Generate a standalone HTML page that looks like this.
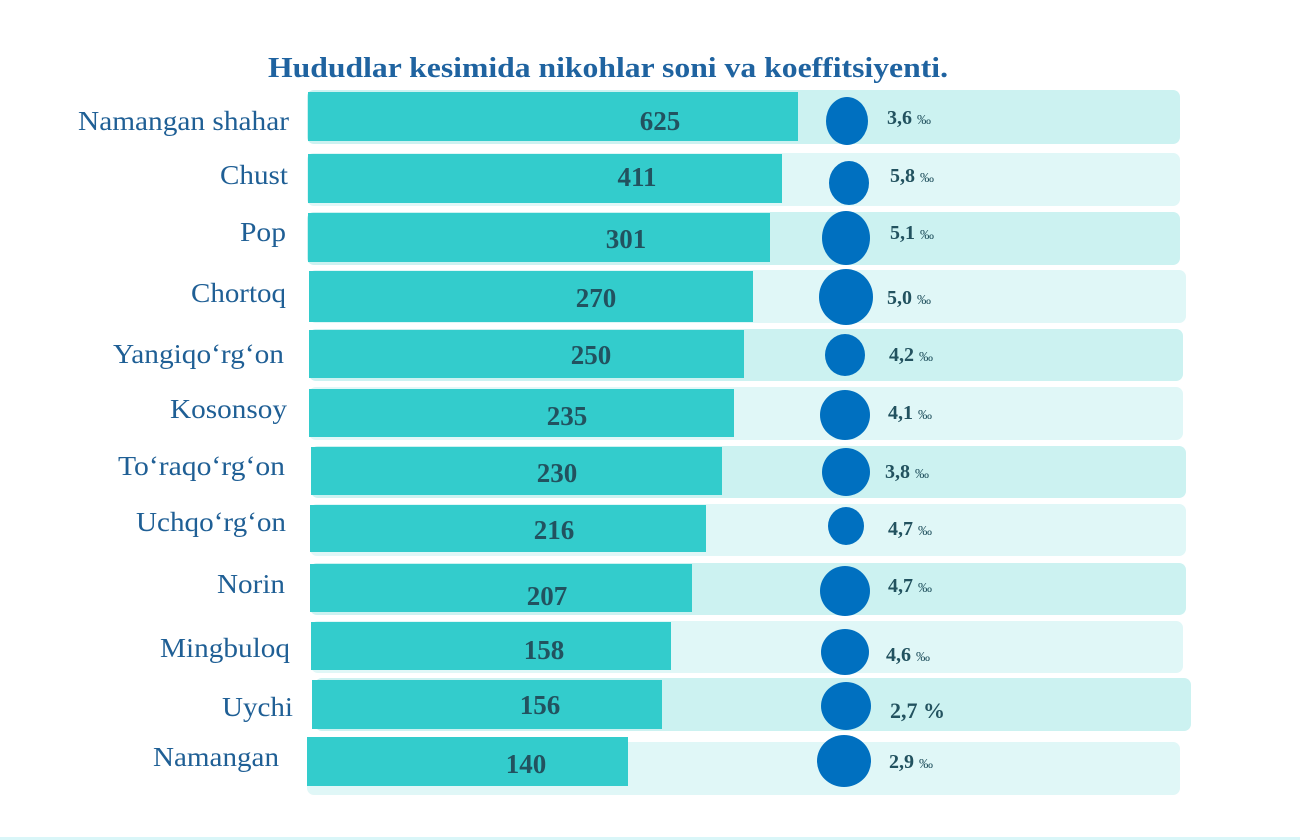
<!DOCTYPE html>
<html><head><meta charset="utf-8"><style>body{margin:0;background:#fff}svg{display:block}</style></head><body>
<svg width="1300" height="840" xmlns="http://www.w3.org/2000/svg" font-family="Liberation Serif, serif">
<text x="268" y="77" font-size="28" font-weight="bold" fill="#1f63a0" textLength="680" lengthAdjust="spacingAndGlyphs">Hududlar kesimida nikohlar soni va koeffitsiyenti.</text>
<g>
<rect x="307" y="90" width="873" height="54" rx="7" fill="#ccf2f1"/>
<rect x="307" y="153" width="873" height="53" rx="7" fill="#e0f7f7"/>
<rect x="307" y="212" width="873" height="53" rx="7" fill="#ccf2f1"/>
<rect x="309" y="270" width="877" height="53" rx="7" fill="#e0f7f7"/>
<rect x="309" y="329" width="874" height="52" rx="7" fill="#ccf2f1"/>
<rect x="309" y="387" width="874" height="53" rx="7" fill="#e0f7f7"/>
<rect x="311" y="446" width="875" height="52" rx="7" fill="#ccf2f1"/>
<rect x="310" y="504" width="876" height="52" rx="7" fill="#e0f7f7"/>
<rect x="310" y="563" width="876" height="52" rx="7" fill="#ccf2f1"/>
<rect x="311" y="621" width="872" height="52" rx="7" fill="#e0f7f7"/>
<rect x="315" y="678" width="876" height="53" rx="7" fill="#ccf2f1"/>
<rect x="307" y="742" width="873" height="53" rx="7" fill="#e0f7f7"/>
</g>
<g fill="#33cccc">
<rect x="308" y="92" width="490" height="49"/>
<rect x="308" y="154" width="474" height="49"/>
<rect x="308" y="213" width="462" height="49"/>
<rect x="309" y="271" width="444" height="51"/>
<rect x="309" y="330" width="435" height="48"/>
<rect x="309" y="389" width="425" height="48"/>
<rect x="311" y="447" width="411" height="48"/>
<rect x="310" y="505" width="396" height="47"/>
<rect x="310" y="564" width="382" height="48"/>
<rect x="311" y="622" width="360" height="48"/>
<rect x="312" y="680" width="350" height="49"/>
<rect x="307" y="737" width="321" height="49"/>
</g>
<g fill="#0070c0">
<ellipse cx="847" cy="121" rx="21" ry="24"/>
<ellipse cx="849" cy="183" rx="20" ry="22"/>
<ellipse cx="846" cy="238" rx="24" ry="27"/>
<ellipse cx="846" cy="297" rx="27" ry="28"/>
<ellipse cx="845" cy="355" rx="20" ry="21"/>
<ellipse cx="845" cy="415" rx="25" ry="25"/>
<ellipse cx="846" cy="472" rx="24" ry="24"/>
<ellipse cx="846" cy="526" rx="18" ry="19"/>
<ellipse cx="845" cy="591" rx="25" ry="25"/>
<ellipse cx="845" cy="652" rx="24" ry="23"/>
<ellipse cx="846" cy="706" rx="25" ry="24"/>
<ellipse cx="844" cy="761" rx="27" ry="26"/>
</g>
<g font-size="27" font-weight="bold" fill="#22525f" text-anchor="middle">
<text x="660" y="130">625</text>
<text x="637" y="186">411</text>
<text x="626" y="248">301</text>
<text x="596" y="307">270</text>
<text x="591" y="364">250</text>
<text x="567" y="425">235</text>
<text x="557" y="482">230</text>
<text x="554" y="539">216</text>
<text x="547" y="605">207</text>
<text x="544" y="659">158</text>
<text x="540" y="714">156</text>
<text x="526" y="773">140</text>
</g>
<g font-size="20" font-weight="bold" fill="#22525f">
<text x="887" y="124">3,6 <tspan font-size="14" font-weight="normal">‰</tspan></text>
<text x="890" y="182">5,8 <tspan font-size="14" font-weight="normal">‰</tspan></text>
<text x="890" y="239">5,1 <tspan font-size="14" font-weight="normal">‰</tspan></text>
<text x="887" y="304">5,0 <tspan font-size="14" font-weight="normal">‰</tspan></text>
<text x="889" y="361">4,2 <tspan font-size="14" font-weight="normal">‰</tspan></text>
<text x="888" y="419">4,1 <tspan font-size="14" font-weight="normal">‰</tspan></text>
<text x="885" y="478">3,8 <tspan font-size="14" font-weight="normal">‰</tspan></text>
<text x="888" y="535">4,7 <tspan font-size="14" font-weight="normal">‰</tspan></text>
<text x="888" y="592">4,7 <tspan font-size="14" font-weight="normal">‰</tspan></text>
<text x="886" y="661">4,6 <tspan font-size="14" font-weight="normal">‰</tspan></text>
<text x="890" y="718" font-size="22">2,7 %</text>
<text x="889" y="768">2,9 <tspan font-size="14" font-weight="normal">‰</tspan></text>
</g>
<g font-size="27" fill="#1f5f95" lengthAdjust="spacingAndGlyphs">
<text x="78" y="130" textLength="211" lengthAdjust="spacingAndGlyphs">Namangan shahar</text>
<text x="220" y="184" textLength="68" lengthAdjust="spacingAndGlyphs">Chust</text>
<text x="240" y="241" textLength="46" lengthAdjust="spacingAndGlyphs">Pop</text>
<text x="191" y="302" textLength="95" lengthAdjust="spacingAndGlyphs">Chortoq</text>
<text x="113" y="363" textLength="171" lengthAdjust="spacingAndGlyphs">Yangiqo‘rg‘on</text>
<text x="170" y="418" textLength="117" lengthAdjust="spacingAndGlyphs">Kosonsoy</text>
<text x="118" y="475" textLength="167" lengthAdjust="spacingAndGlyphs">To‘raqo‘rg‘on</text>
<text x="136" y="531" textLength="150" lengthAdjust="spacingAndGlyphs">Uchqo‘rg‘on</text>
<text x="217" y="593" textLength="68" lengthAdjust="spacingAndGlyphs">Norin</text>
<text x="160" y="657" textLength="130" lengthAdjust="spacingAndGlyphs">Mingbuloq</text>
<text x="222" y="716" textLength="71" lengthAdjust="spacingAndGlyphs">Uychi</text>
<text x="153" y="766" textLength="126" lengthAdjust="spacingAndGlyphs">Namangan</text>
</g>
<rect x="0" y="837" width="1300" height="3" fill="#d9f6f8"/>
</svg>
</body></html>
